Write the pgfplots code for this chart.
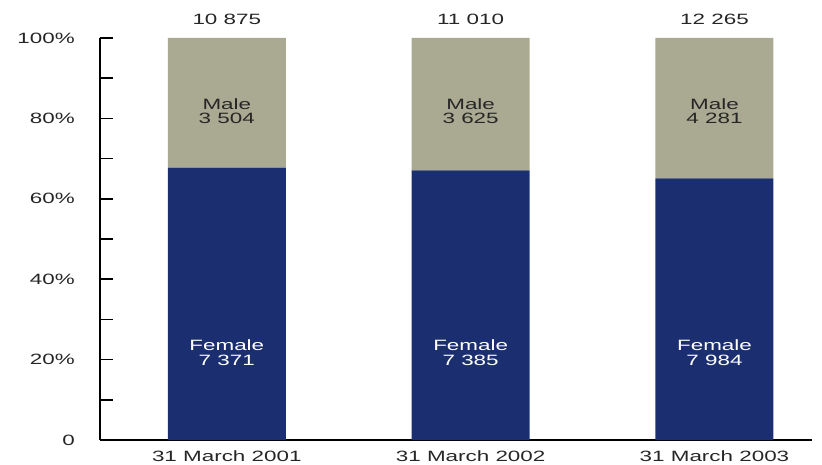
\documentclass[border=0pt]{standalone}
\usepackage{fontspec}
\setmainfont[FakeStretch=1.5]{Liberation Sans}
\usepackage{pgfplots}
\pgfplotsset{compat=1.18}
\definecolor{female}{RGB}{27,47,112}
\definecolor{male}{RGB}{170,169,146}
\begin{document}
\fontsize{15}{16}\selectfont
\begin{tikzpicture}
\useasboundingbox (-100bp,-25bp) rectangle (722bp,440bp);
\begin{axis}[
 scale only axis, width=712bp, height=402bp,
 xmin=-0.52, xmax=2.40, ymin=0, ymax=100,
 ybar stacked, bar width=0.484,
 axis x line*=bottom, axis y line*=left,
 axis line style={line width=1.6pt, -},
 xtick={0,1,2}, xticklabels={31 March 2001, 31 March 2002, 31 March 2003},
 x tick style={draw=none},
 ytick={0,20,...,100}, yticklabels={0,20\%,40\%,60\%,80\%,100\%},
 minor ytick={10,30,50,70,90},
 tick align=inside, major tick length=13bp, minor tick length=13bp,
 y tick style={line width=1.6pt, black},
 every tick label/.append style={font=\fontsize{15}{16}\selectfont, text=black!85},
 yticklabel style={xshift=-20bp},
 xticklabel style={yshift=-5bp},
 /pgf/number format/assume math mode=true,
 clip=false,
]
\addplot[fill=female, draw=none] coordinates {(0,67.78) (1,67.08) (2,65.10)};
\addplot[fill=male, draw=none] coordinates {(0,32.22) (1,32.92) (2,34.90)};
\coordinate (t0) at (axis cs:0,100);
\coordinate (t1) at (axis cs:1,100);
\coordinate (t2) at (axis cs:2,100);
\coordinate (m0) at (axis cs:0,81.8);
\coordinate (m1) at (axis cs:1,81.8);
\coordinate (m2) at (axis cs:2,81.8);
\coordinate (f0) at (axis cs:0,21.7);
\coordinate (f1) at (axis cs:1,21.7);
\coordinate (f2) at (axis cs:2,21.7);
\end{axis}
\begin{scope}[every node/.style={align=center, inner sep=1bp, font=\fontsize{15}{15}\selectfont}]
\node[anchor=south, yshift=12bp, text=black!85] at (t0) {10 875};
\node[anchor=south, yshift=12bp, text=black!85] at (t1) {11 010};
\node[anchor=south, yshift=12bp, text=black!85] at (t2) {12 265};
\node[text=black!85] at (m0) {Male\\3 504};
\node[text=black!85] at (m1) {Male\\3 625};
\node[text=black!85] at (m2) {Male\\4 281};
\node[text=white] at (f0) {Female\\7 371};
\node[text=white] at (f1) {Female\\7 385};
\node[text=white] at (f2) {Female\\7 984};
\end{scope}
\end{tikzpicture}
\end{document}
